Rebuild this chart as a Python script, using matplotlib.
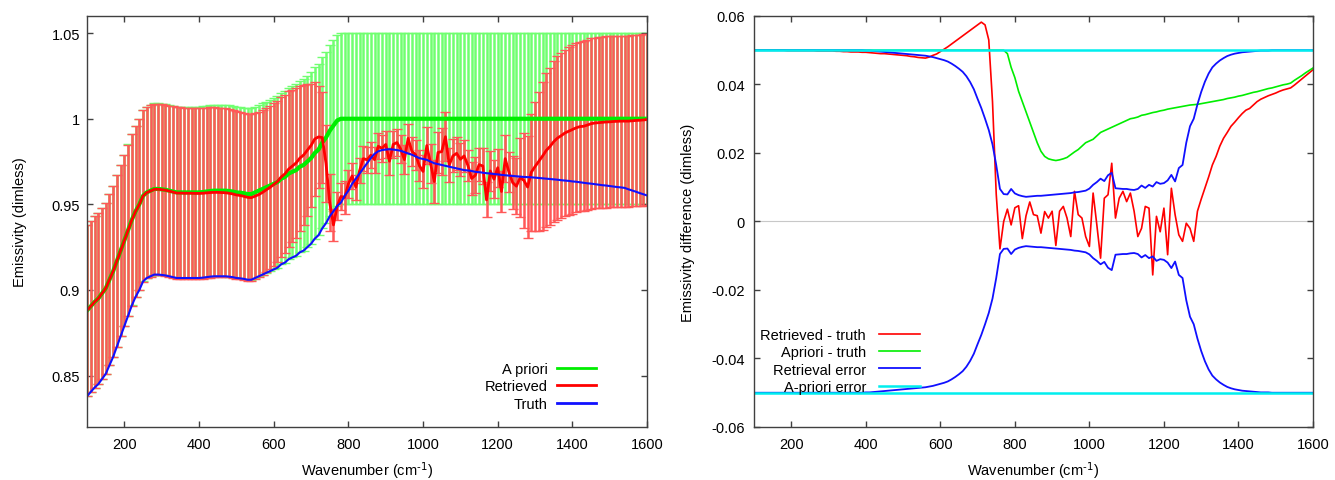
import numpy as np
import matplotlib
matplotlib.use('Agg')
import matplotlib.pyplot as plt
from matplotlib.ticker import FuncFormatter, MultipleLocator

plt.rcParams['font.family'] = ['Liberation Sans', 'DejaVu Sans']
plt.rcParams['mathtext.default'] = 'regular'
plt.rcParams['font.size'] = 10.5

# spectral grid (cm-1)
wavenumber = np.arange(100, 1601, 10)

# true emissivity
truth = [
    0.838, 0.8405, 0.843, 0.845, 0.848, 0.851, 0.856, 0.861, 0.867, 0.873,
    0.879, 0.885, 0.891, 0.896, 0.900, 0.905, 0.907, 0.908, 0.909, 0.909,
    0.9088, 0.9085, 0.908, 0.9075, 0.907, 0.907, 0.907, 0.907, 0.907, 0.907,
    0.907, 0.9072, 0.9075, 0.9078, 0.908, 0.908, 0.908, 0.908, 0.9078, 0.9075,
    0.907, 0.9068, 0.9065, 0.906, 0.906, 0.907, 0.908, 0.909, 0.910, 0.911,
    0.912, 0.913, 0.915, 0.916, 0.918, 0.919, 0.920, 0.922, 0.923, 0.925,
    0.927, 0.930, 0.932, 0.936, 0.939, 0.943, 0.946, 0.949, 0.951, 0.955,
    0.958, 0.962, 0.965, 0.968, 0.971, 0.974, 0.977, 0.9795, 0.981, 0.9817,
    0.982, 0.9822, 0.982, 0.9817, 0.9813, 0.9805, 0.9797, 0.979, 0.978, 0.977,
    0.9765, 0.976, 0.975, 0.974, 0.9735, 0.973, 0.9725, 0.972, 0.9715, 0.971,
    0.9705, 0.970, 0.9698, 0.9695, 0.969, 0.9688, 0.9685, 0.9682, 0.968, 0.9677,
    0.9675, 0.9672, 0.967, 0.9668, 0.9666, 0.9664, 0.9662, 0.966, 0.9659, 0.9658,
    0.9656, 0.9654, 0.9652, 0.965, 0.9648, 0.9646, 0.9644, 0.9641, 0.9639, 0.9637,
    0.9634, 0.9632, 0.9629, 0.9626, 0.9623, 0.9621, 0.9618, 0.9615, 0.9612, 0.961,
    0.9607, 0.9604, 0.9601, 0.9599, 0.9596, 0.9588, 0.9581, 0.9574, 0.9566, 0.9559,
    0.9552,
]

# a priori minus truth
apriori_minus_truth = [0.05] * 60 + [
    0.05, 0.05, 0.05, 0.05, 0.05, 0.05, 0.05, 0.05, 0.049, 0.045,
    0.042, 0.038, 0.035, 0.032, 0.029, 0.026, 0.023, 0.0205, 0.019, 0.0183,
    0.018, 0.0178, 0.018, 0.0183, 0.0187, 0.0195, 0.0203, 0.021, 0.022, 0.023,
    0.0235, 0.024, 0.025, 0.026, 0.0265, 0.027, 0.0275, 0.028, 0.0285, 0.029,
    0.0295, 0.030, 0.0302, 0.0305, 0.031, 0.0312, 0.0315, 0.0318, 0.032, 0.0323,
    0.0325, 0.0328, 0.033, 0.0332, 0.0334, 0.0336, 0.0338, 0.034, 0.0341, 0.0342,
    0.0344, 0.0346, 0.0348, 0.035, 0.0352, 0.0354, 0.0356, 0.0359, 0.0361, 0.0363,
    0.0366, 0.0368, 0.0371, 0.0374, 0.0377, 0.0379, 0.0382, 0.0385, 0.0388, 0.039,
    0.0393, 0.0396, 0.0399, 0.0401, 0.0404, 0.0412, 0.0419, 0.0426, 0.0434, 0.0441,
    0.0448,
]

# retrieved minus truth
retrieved_minus_truth = [
    0.05, 0.05, 0.05, 0.05, 0.05, 0.05, 0.05, 0.05, 0.05, 0.0499,
    0.0499, 0.0499, 0.0499, 0.0499, 0.0499, 0.0499, 0.0499, 0.0498, 0.0498, 0.0498,
    0.0498, 0.0498, 0.0497, 0.0497, 0.0496, 0.0496, 0.0495, 0.0495, 0.0495, 0.0494,
    0.0494, 0.0493, 0.0492, 0.0491, 0.049, 0.049, 0.0489, 0.0488, 0.0487, 0.0486,
    0.0485, 0.0484, 0.0482, 0.0481, 0.0479, 0.0478, 0.0477, 0.048, 0.0485, 0.0489,
    0.0496, 0.0503, 0.051, 0.0518, 0.0526, 0.0534, 0.0542, 0.055, 0.0558, 0.0566,
    0.0574, 0.0582, 0.0574, 0.053, 0.035, 0.008, -0.008, 0.0, 0.0036, -0.001,
    0.004, 0.0046, -0.005, 0.0017, 0.0057, 0.002, 0.0017, -0.0034, 0.0029, 0.001,
    0.003, -0.007, 0.003, 0.0044, 0.001, -0.0044, 0.0088, 0.002, 0.001, -0.0044,
    -0.0073, 0.0083, -0.001, -0.0107, 0.0068, 0.0078, 0.017, 0.001, 0.0068, 0.0088,
    0.0058, 0.0083, 0.003, -0.0044, -0.002, 0.0044, 0.0039, -0.0156, 0.0015, -0.003,
    0.0039, -0.0097, 0.0097, 0.002, -0.0039, -0.0058, -0.0005, -0.002, -0.0058, 0.003,
    0.0065, 0.0097, 0.013, 0.0165, 0.019, 0.022, 0.0243, 0.026, 0.0278, 0.029,
    0.0303, 0.0315, 0.0325, 0.033, 0.034, 0.035, 0.0357, 0.0362, 0.0367, 0.0371,
    0.0375, 0.038, 0.0384, 0.0387, 0.039, 0.0398, 0.0407, 0.0416, 0.0425, 0.0434,
    0.0443,
]

# retrieval error (1 sigma)
retrieval_error = [0.05] * 30 + [
    0.0499, 0.0499, 0.0498, 0.0497, 0.0496, 0.0495, 0.0494, 0.0493, 0.0492, 0.0491,
    0.049, 0.0489, 0.0488, 0.0487, 0.0486, 0.0485, 0.0484, 0.0482, 0.048, 0.0477,
    0.0474, 0.0471, 0.0467, 0.0461, 0.0454, 0.0446, 0.0437, 0.0424, 0.0407, 0.0386,
    0.0358, 0.0331, 0.030, 0.0267, 0.0225, 0.0165, 0.0095, 0.008, 0.0079, 0.0095,
    0.0082, 0.0077, 0.0074, 0.0072, 0.0073, 0.0074, 0.0075, 0.0075, 0.0076, 0.0077,
    0.0078, 0.0079, 0.008, 0.0081, 0.0082, 0.0083, 0.0085, 0.0086, 0.0088, 0.009,
    0.0096, 0.0107, 0.0115, 0.0125, 0.0118, 0.0135, 0.0142, 0.0097, 0.0096, 0.0095,
    0.0095, 0.0093, 0.0092, 0.0095, 0.0105, 0.0098, 0.0107, 0.0102, 0.0115, 0.011,
    0.0112, 0.012, 0.0136, 0.0117, 0.0156, 0.0165, 0.023, 0.0278, 0.030, 0.0342,
    0.0378, 0.0408, 0.0432, 0.045, 0.0461, 0.047, 0.0477, 0.0483, 0.0487, 0.049,
    0.0492, 0.0494, 0.0495, 0.0496, 0.0497, 0.0498, 0.0499, 0.0499, 0.0499, 0.05,
] + [0.05] * 11

# a priori error
apriori_error = [0.05] * len(wavenumber)

truth = np.array(truth)
apriori_minus_truth = np.array(apriori_minus_truth)
retrieved_minus_truth = np.array(retrieved_minus_truth)
retrieval_error = np.array(retrieval_error)
apriori_error = np.array(apriori_error)

apriori = truth + apriori_minus_truth
retrieved = truth + retrieved_minus_truth

GREEN = '#00ee00'
RED = '#ff0000'
BLUE = '#1010ff'
CYAN = '#00eeee'


def fmt(v, pos):
    return '%g' % (round(v, 4) + 0.0)


def style_axes(ax, ypad):
    for s in ax.spines.values():
        s.set_color('#404040')
        s.set_linewidth(1)
        s.set_zorder(10)
    ax.tick_params(direction='in', top=True, right=True, length=4,
                   width=1, color='#404040', labelsize=10.5)
    ax.tick_params(axis='x', pad=7)
    ax.tick_params(axis='y', pad=ypad)
    ax.set_xlim(100, 1600)
    ax.xaxis.set_major_locator(MultipleLocator(200))
    ax.yaxis.set_major_formatter(FuncFormatter(fmt))
    ax.set_xlabel('Wavenumber (cm$^{\\text{-1}}$)', fontsize=10.5)
    ax.xaxis.set_label_coords(0.5, -0.078)


fig = plt.figure(figsize=(13.35, 4.81), dpi=100)
ax1 = fig.add_axes([0.0652, 0.1102, 0.4195, 0.8545])
ax2 = fig.add_axes([0.5648, 0.1102, 0.4187, 0.8545])

# Left panel: emissivity with error bars
eb_a = ax1.errorbar(wavenumber, apriori, yerr=apriori_error, fmt='none',
                    ecolor='#70ff70', elinewidth=1.8, capsize=3.5, capthick=1, zorder=1)
for c in eb_a[1]:
    c.set_color('#10e010')
eb_r = ax1.errorbar(wavenumber, retrieved, yerr=retrieval_error, fmt='none',
                    ecolor='#ff5858', elinewidth=1.8, capsize=3.5, capthick=1, zorder=2)
for c in eb_r[1]:
    c.set_color('#ff1a1a')
ax1.plot(wavenumber, apriori, color=GREEN, lw=3, label='A priori', zorder=3)
ax1.plot(wavenumber, retrieved, color=RED, lw=2, label='Retrieved', zorder=4)
ax1.plot(wavenumber, truth, color=BLUE, lw=1.5, label='Truth', zorder=5)

style_axes(ax1, 5)
ax1.set_ylim(0.82, 1.06)
ax1.yaxis.set_major_locator(MultipleLocator(0.05))
ax1.set_ylabel('Emissivity (dimless)', fontsize=10.5)
ax1.yaxis.set_label_coords(-0.107, 0.5)
leg1 = ax1.legend(loc='lower right', bbox_to_anchor=(0.922, 0.022), frameon=False,
                  markerfirst=False, handlelength=2.7, handletextpad=0.6,
                  labelspacing=0.22, borderpad=0, fontsize=10.5)
for h in leg1.get_lines():
    h.set_linewidth(2)

# Right panel: differences
ax2.axhline(0, color='#c8c8c8', lw=0.8, zorder=0)
ax2.plot(wavenumber, retrieved_minus_truth, color=RED, lw=1.2, label='Retrieved - truth')
ax2.plot(wavenumber, apriori_minus_truth, color=GREEN, lw=1.2, label='Apriori - truth')
ax2.plot(wavenumber, retrieval_error, color=BLUE, lw=1.3, label='Retrieval error')
ax2.plot(wavenumber, -retrieval_error, color=BLUE, lw=1.3)
ax2.plot(wavenumber, apriori_error, color=CYAN, lw=1.8, label='A-priori error')
ax2.plot(wavenumber, -apriori_error, color=CYAN, lw=1.8)

style_axes(ax2, 6.5)
ax2.set_ylim(-0.06, 0.06)
ax2.yaxis.set_major_locator(MultipleLocator(0.02))
ax2.set_ylabel('Emissivity difference (dimless)', fontsize=10.5)
ax2.yaxis.set_label_coords(-0.1055, 0.5)
leg2 = ax2.legend(loc='lower right', bbox_to_anchor=(0.31, 0.063), frameon=False,
                  markerfirst=False, handlelength=2.8, handletextpad=0.9,
                  labelspacing=0.22, borderpad=0, fontsize=10.5)

fig.savefig('out.png', dpi=100)
